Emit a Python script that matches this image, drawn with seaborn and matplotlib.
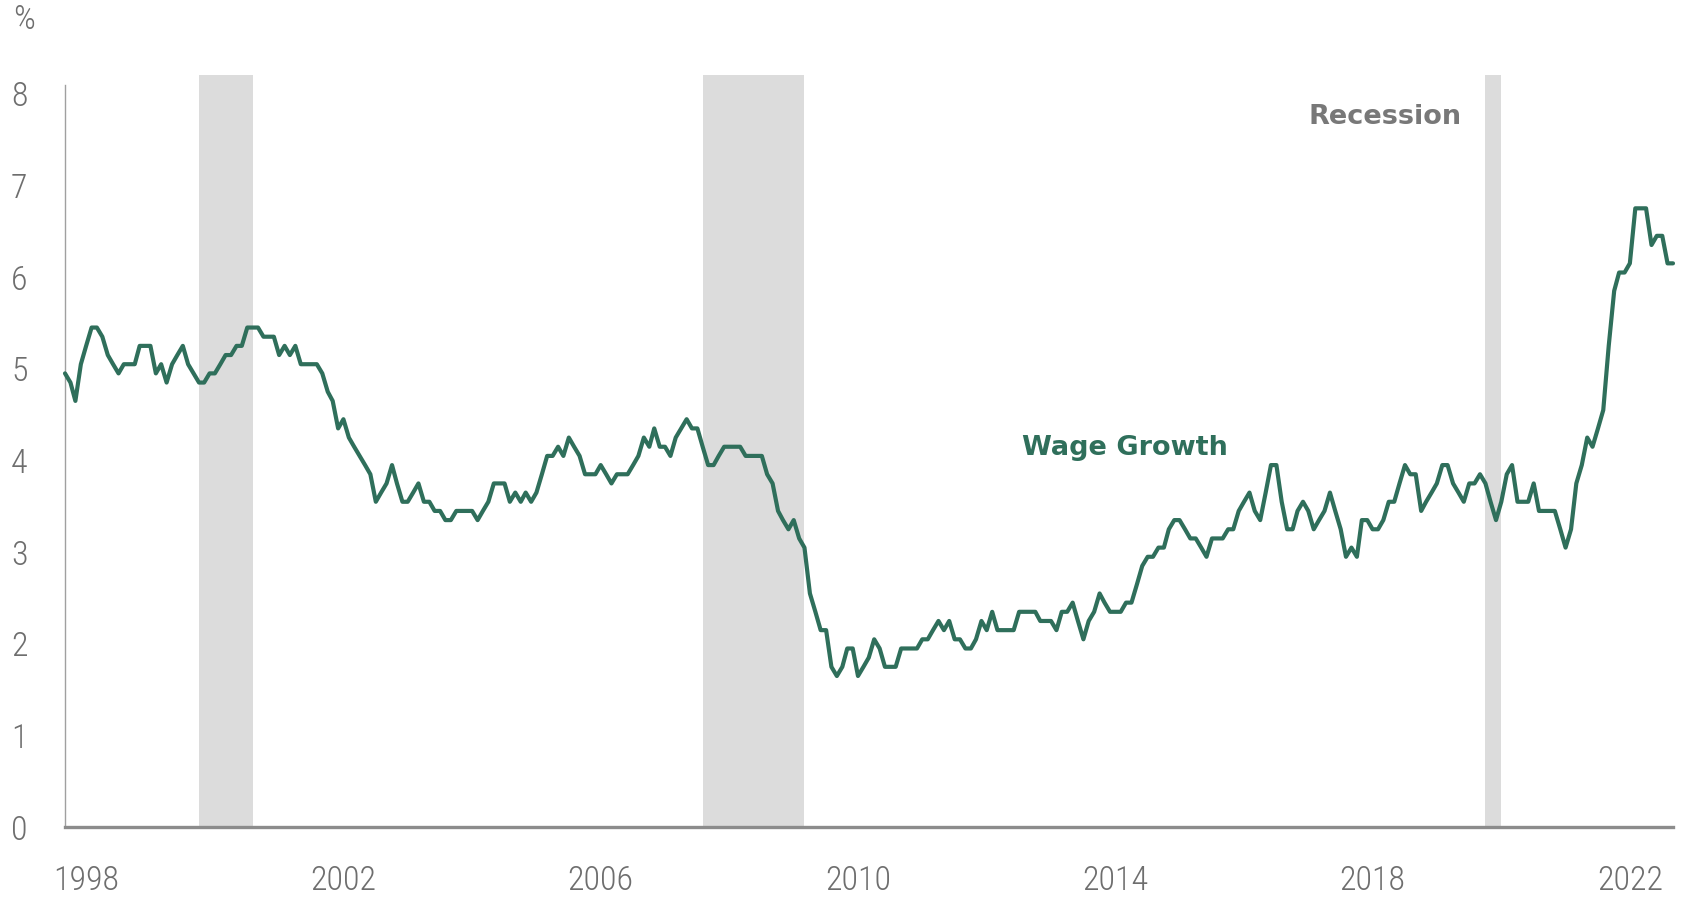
import pandas as pd
import seaborn as sns
import matplotlib.pyplot as plt
from matplotlib import font_manager

# monthly wage growth (%), Jan 1998 onwards
wage_growth = [
    4.95, 4.85, 4.65, 5.05, 5.25, 5.45, 5.45, 5.35, 5.15, 5.05, 4.95, 5.05,   # 1998
    5.05, 5.05, 5.25, 5.25, 5.25, 4.95, 5.05, 4.85, 5.05, 5.15, 5.25, 5.05,   # 1999
    4.95, 4.85, 4.85, 4.95, 4.95, 5.05, 5.15, 5.15, 5.25, 5.25, 5.45, 5.45,   # 2000
    5.45, 5.35, 5.35, 5.35, 5.15, 5.25, 5.15, 5.25, 5.05, 5.05, 5.05, 5.05,   # 2001
    4.95, 4.75, 4.65, 4.35, 4.45, 4.25, 4.15, 4.05, 3.95, 3.85, 3.55, 3.65,   # 2002
    3.75, 3.95, 3.75, 3.55, 3.55, 3.65, 3.75, 3.55, 3.55, 3.45, 3.45, 3.35,   # 2003
    3.35, 3.45, 3.45, 3.45, 3.45, 3.35, 3.45, 3.55, 3.75, 3.75, 3.75, 3.55,   # 2004
    3.65, 3.55, 3.65, 3.55, 3.65, 3.85, 4.05, 4.05, 4.15, 4.05, 4.25, 4.15,   # 2005
    4.05, 3.85, 3.85, 3.85, 3.95, 3.85, 3.75, 3.85, 3.85, 3.85, 3.95, 4.05,   # 2006
    4.25, 4.15, 4.35, 4.15, 4.15, 4.05, 4.25, 4.35, 4.45, 4.35, 4.35, 4.15,   # 2007
    3.95, 3.95, 4.05, 4.15, 4.15, 4.15, 4.15, 4.05, 4.05, 4.05, 4.05, 3.85,   # 2008
    3.75, 3.45, 3.35, 3.25, 3.35, 3.15, 3.05, 2.55, 2.35, 2.15, 2.15, 1.75,   # 2009
    1.65, 1.75, 1.95, 1.95, 1.65, 1.75, 1.85, 2.05, 1.95, 1.75, 1.75, 1.75,   # 2010
    1.95, 1.95, 1.95, 1.95, 2.05, 2.05, 2.15, 2.25, 2.15, 2.25, 2.05, 2.05,   # 2011
    1.95, 1.95, 2.05, 2.25, 2.15, 2.35, 2.15, 2.15, 2.15, 2.15, 2.35, 2.35,   # 2012
    2.35, 2.35, 2.25, 2.25, 2.25, 2.15, 2.35, 2.35, 2.45, 2.25, 2.05, 2.25,   # 2013
    2.35, 2.55, 2.45, 2.35, 2.35, 2.35, 2.45, 2.45, 2.65, 2.85, 2.95, 2.95,   # 2014
    3.05, 3.05, 3.25, 3.35, 3.35, 3.25, 3.15, 3.15, 3.05, 2.95, 3.15, 3.15,   # 2015
    3.15, 3.25, 3.25, 3.45, 3.55, 3.65, 3.45, 3.35, 3.65, 3.95, 3.95, 3.55,   # 2016
    3.25, 3.25, 3.45, 3.55, 3.45, 3.25, 3.35, 3.45, 3.65, 3.45, 3.25, 2.95,   # 2017
    3.05, 2.95, 3.35, 3.35, 3.25, 3.25, 3.35, 3.55, 3.55, 3.75, 3.95, 3.85,   # 2018
    3.85, 3.45, 3.55, 3.65, 3.75, 3.95, 3.95, 3.75, 3.65, 3.55, 3.75, 3.75,   # 2019
    3.85, 3.75, 3.55, 3.35, 3.55, 3.85, 3.95, 3.55, 3.55, 3.55, 3.75, 3.45,   # 2020
    3.45, 3.45, 3.45, 3.25, 3.05, 3.25, 3.75, 3.95, 4.25, 4.15, 4.35, 4.55,   # 2021
    5.25, 5.85, 6.05, 6.05, 6.15, 6.75, 6.75, 6.75, 6.35, 6.45, 6.45, 6.15,   # 2022
    6.15,                                                                      # 2023
]
dates = pd.date_range("1998-01-01", periods=len(wage_growth), freq="MS")

# recession bands as drawn on the chart
rec_start = ["2000-02-01", "2007-12-01", "2020-02-01"]
rec_end = ["2000-12-01", "2009-07-01", "2020-05-01"]

tick_years = [1998, 2002, 2006, 2010, 2014, 2018, 2022]
y_ticks = [0, 1, 2, 3, 4, 5, 6, 7, 8]

GREEN = "#2f6f5b"
GREY_TXT = "#6e6e6e"
SHADE = "#dcdcdc"

df = pd.DataFrame({"date": dates, "wage": wage_growth})

sns.set_style("white")
installed = {f.name for f in font_manager.fontManager.ttflist}
tick_font = "DejaVu Sans"
for name in ["Roboto Condensed", "Liberation Sans Narrow", "Roboto"]:
    if name in installed:
        tick_font = name
        break
plt.rcParams["font.family"] = [tick_font, "DejaVu Sans"]

fig = plt.figure(figsize=(17, 9.05), dpi=100)
# y = 0 sits 827 px down, 91.7 px per percent point
ax = fig.add_axes([65 / 1700, (905 - 827.3) / 905, (1673 - 65) / 1700, 8.2 * 91.7 / 905])

for s, e in zip(rec_start, rec_end):
    ax.axvspan(pd.Timestamp(s), pd.Timestamp(e), color=SHADE, lw=0, zorder=0)

sns.lineplot(data=df, x="date", y="wage", color=GREEN, linewidth=3.0, ax=ax, zorder=3)
for ln in ax.lines:
    ln.set_clip_on(False)

ax.set_xlim(dates[0], dates[-1])
ax.set_ylim(0, 8.2)
ax.set_xlabel("")
ax.set_ylabel("")

ax.set_yticks(y_ticks)
ax.set_yticklabels([str(t) for t in y_ticks])
ax.set_xticks([pd.Timestamp(f"{y}-05-01") for y in tick_years])
ax.set_xticklabels([str(y) for y in tick_years])
ax.tick_params(axis="y", length=0, pad=27, labelsize=24.5, labelcolor=GREY_TXT)
ax.tick_params(axis="x", length=0, pad=27, labelsize=24.5, labelcolor=GREY_TXT)
for lab in ax.get_xticklabels() + ax.get_yticklabels():
    lab.set_fontweight("light")

for side in ["top", "right"]:
    ax.spines[side].set_visible(False)
ax.spines["left"].set_color("#a0a0a0")
ax.spines["left"].set_linewidth(1.0)
ax.spines["left"].set_bounds(0, 8.1)
ax.spines["bottom"].set_color("#8c8c8c")
ax.spines["bottom"].set_linewidth(2.4)
ax.spines["bottom"].set_zorder(4)

fig.text(24 / 1700, 1 - 20 / 905, "%", ha="center", va="center",
         fontsize=24.5, fontweight="light", color=GREY_TXT)

ax.text(pd.Timestamp("2018-07-10"), 7.75, "Recession", ha="center", va="center",
        fontsize=19.5, fontweight="bold", color="#787878", family="DejaVu Sans")
ax.text(pd.Timestamp("2014-06-25"), 4.14, "Wage Growth", ha="center", va="center",
        fontsize=19.5, fontweight="bold", color=GREEN, family="DejaVu Sans")

fig.savefig("out.png", dpi=100)
